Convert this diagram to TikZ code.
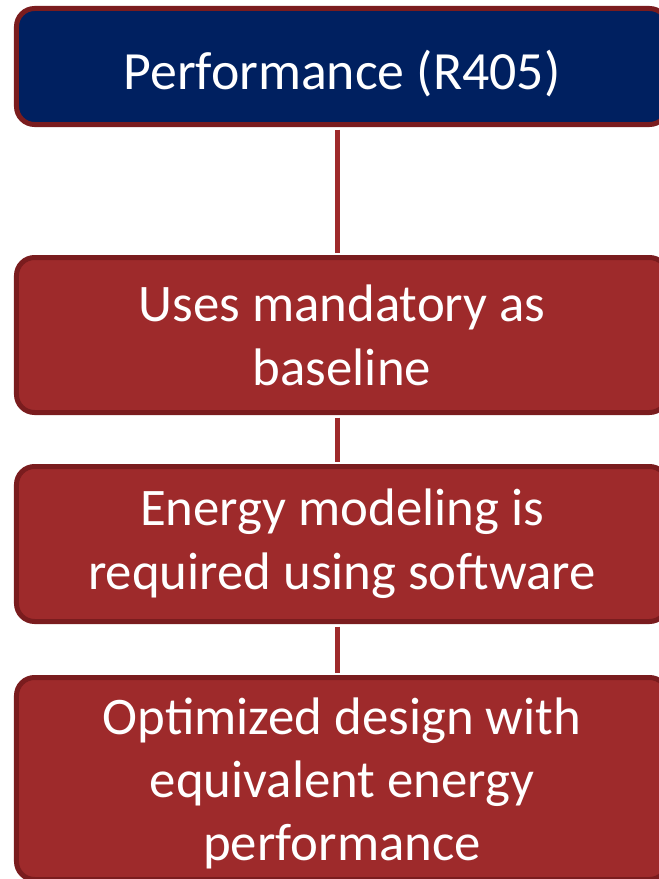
\documentclass[tikz,border=0pt]{standalone}
\usepackage{fontspec}
\setmainfont{Carlito}
\definecolor{navyblue}{HTML}{002060}
\definecolor{boxred}{HTML}{9E2A2B}
\definecolor{rimred}{HTML}{7A1C1E}

\begin{document}
\begin{tikzpicture}[x=1bp,y=-1bp,
    stepbox/.style={draw=rimred, line width=5bp, rounded corners=18bp, fill=boxred,
      text=white, align=center, minimum width=651bp, inner sep=0pt,
      font=\fontsize{53}{64}\selectfont},
    steptext/.style={text=white, align=center, inner sep=0pt,
      font=\fontsize{53}{63}\selectfont},
    link/.style={draw=boxred, line width=5bp, shorten <=2.5bp, shorten >=2.5bp}]
  \useasboundingbox (0,0) rectangle (659,879);
  \clip (0,0) rectangle (659,879);
  % boxes
  \node[stepbox, fill=navyblue, minimum height=116bp, text height=56bp, text depth=10bp,
    font=\fontsize{54}{64}\selectfont] (perf) at (342,66.5) {Performance (R405)};
  \node[stepbox, minimum height=155bp] (base) at (342,335) {Uses mandatory as\\baseline};
  \node[stepbox, minimum height=155bp] (model) at (342,544) {Energy modeling is\\required using software};
  \node[stepbox, minimum height=202bp] (optim) at (342,778.5) {};
  \node[steptext] (optimtext) at ([yshift=-5bp]optim.center) {Optimized design with\\equivalent energy\\performance};
  % links
  \draw[link] ([xshift=-5bp]perf.south) -- ([xshift=-5bp]base.north);
  \draw[link] ([xshift=-5bp]base.south) -- ([xshift=-5bp]model.north);
  \draw[link] ([xshift=-5bp]model.south) -- ([xshift=-5bp]optim.north);
\end{tikzpicture}
\end{document}
